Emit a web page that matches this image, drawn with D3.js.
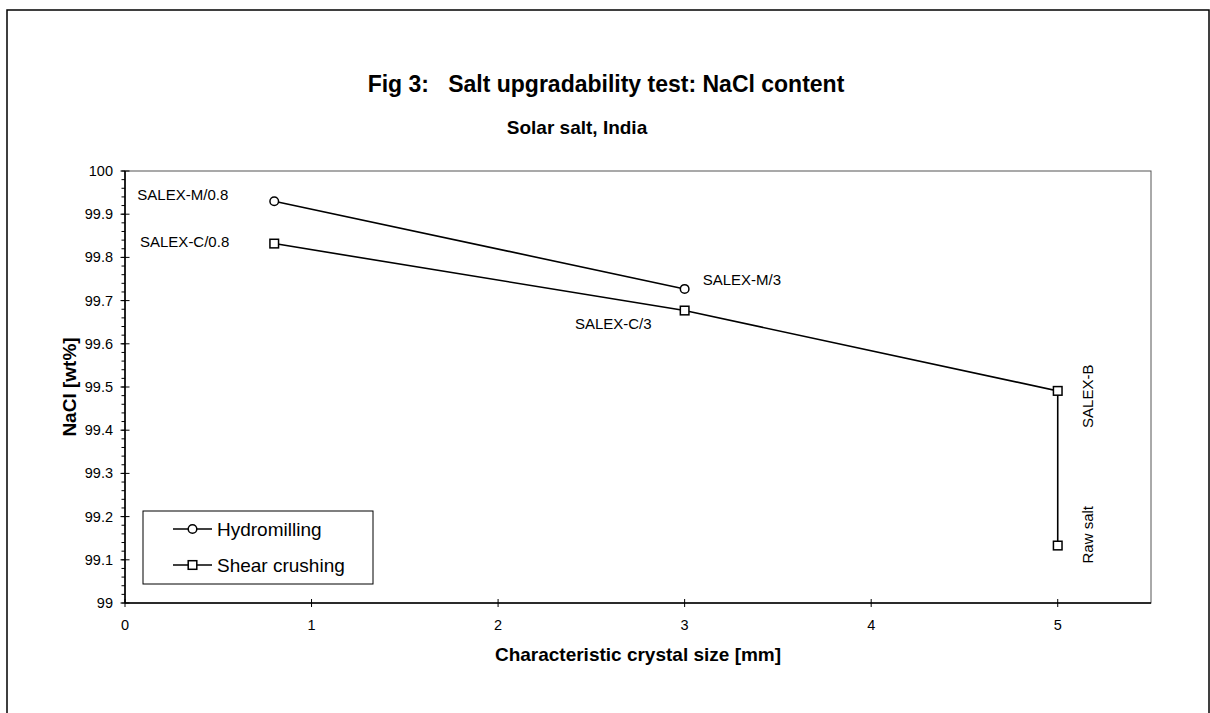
<!DOCTYPE html>
<html>
<head>
<meta charset="utf-8">
<script src="https://cdn.jsdelivr.net/npm/d3@7"></script>
<style>
  html, body { margin: 0; padding: 0; background: #fff; }
  svg { display: block; font-family: "Liberation Sans", Arial, Helvetica, sans-serif; }
</style>
</head>
<body>
<svg id="chart" width="1210" height="713"></svg>
<script>
// ---- data ----
const seriesNames = ["Hydromilling", "Shear crushing"];
const hydroX = [0.8, 3];
const hydroY = [99.93, 99.727];
const shearX = [0.8, 3, 5, 5];
const shearY = [99.832, 99.677, 99.491, 99.133];
const hydroLabels = ["SALEX-M/0.8", "SALEX-M/3"];
const shearLabels = ["SALEX-C/0.8", "SALEX-C/3", "SALEX-B", "Raw salt"];
const xTickValues = [0, 1, 2, 3, 4, 5];
const yTickValues = [99, 99.1, 99.2, 99.3, 99.4, 99.5, 99.6, 99.7, 99.8, 99.9, 100];
const yTickLabels = ["99", "99.1", "99.2", "99.3", "99.4", "99.5", "99.6", "99.7", "99.8", "99.9", "100"];
const titleText = "Fig 3:   Salt upgradability test: NaCl content";
const subtitleText = "Solar salt, India";
const xTitle = "Characteristic crystal size [mm]";
const yTitle = "NaCl [wt%]";

// ---- layout ----
const svg = d3.select("#chart");
const L = 125, R = 1151, T = 171, B = 603;
const x = d3.scaleLinear().domain([0, 5.5]).range([L, R]);
const y = d3.scaleLinear().domain([99, 100]).range([B, T]);

// outer frame
svg.append("rect").attr("x", 7).attr("y", 10).attr("width", 1202).attr("height", 720)
  .attr("fill", "none").attr("stroke", "#000").attr("stroke-width", 1.5);

// titles
svg.append("text").attr("x", 606).attr("y", 92).attr("text-anchor", "middle")
  .attr("font-size", 23).attr("font-weight", "bold").style("white-space", "pre").attr("xml:space", "preserve").text(titleText);
svg.append("text").attr("x", 577).attr("y", 134).attr("text-anchor", "middle")
  .attr("font-size", 19).attr("font-weight", "bold").text(subtitleText);

// plot area border (top/right)
svg.append("rect").attr("x", L).attr("y", T).attr("width", R - L).attr("height", B - T)
  .attr("fill", "none").attr("stroke", "#555").attr("stroke-width", 1);

// y minor ticks
const minor = d3.range(0, 51).map(i => 99 + i * 0.02);
svg.append("g").selectAll("line").data(minor).join("line")
  .attr("x1", L - 3.5).attr("x2", L).attr("y1", d => y(d)).attr("y2", d => y(d))
  .attr("stroke", "#000").attr("stroke-width", 1);
// y major ticks
svg.append("g").selectAll("line").data(yTickValues).join("line")
  .attr("x1", L - 4.5).attr("x2", L + 4.5).attr("y1", d => y(d)).attr("y2", d => y(d))
  .attr("stroke", "#000").attr("stroke-width", 1);
svg.append("g").selectAll("text").data(yTickValues).join("text")
  .attr("x", 113).attr("y", d => y(d) + 5).attr("text-anchor", "end")
  .attr("font-size", 14.5).text((d, i) => yTickLabels[i]);

// x ticks
svg.append("g").selectAll("line").data(xTickValues).join("line")
  .attr("x1", d => x(d)).attr("x2", d => x(d)).attr("y1", B - 4).attr("y2", B + 4)
  .attr("stroke", "#000").attr("stroke-width", 1);
svg.append("g").selectAll("text").data(xTickValues).join("text")
  .attr("x", d => x(d)).attr("y", 630).attr("text-anchor", "middle")
  .attr("font-size", 14.5).text(d => String(d));

// axes lines
svg.append("line").attr("x1", L).attr("x2", L).attr("y1", T).attr("y2", B)
  .attr("stroke", "#000").attr("stroke-width", 1.6);
svg.append("line").attr("x1", L).attr("x2", R).attr("y1", B).attr("y2", B)
  .attr("stroke", "#000").attr("stroke-width", 1.6);

// axis titles
svg.append("text").attr("x", (L + R) / 2).attr("y", 661).attr("text-anchor", "middle")
  .attr("font-size", 19).attr("font-weight", "bold").text(xTitle);
svg.append("text").attr("transform", `translate(76,${(T + B) / 2}) rotate(-90)`)
  .attr("text-anchor", "middle").attr("font-size", 19).attr("font-weight", "bold").text(yTitle);

// lines
const line = d3.line().x(d => x(d[0])).y(d => y(d[1]));
const hydro = hydroX.map((v, i) => [v, hydroY[i]]);
const shear = shearX.map((v, i) => [v, shearY[i]]);
svg.append("path").attr("d", line(hydro)).attr("fill", "none").attr("stroke", "#000").attr("stroke-width", 1.6);
svg.append("path").attr("d", line(shear)).attr("fill", "none").attr("stroke", "#000").attr("stroke-width", 1.6);

// markers
svg.append("g").selectAll("circle").data(hydro).join("circle")
  .attr("cx", d => x(d[0])).attr("cy", d => y(d[1])).attr("r", 4.3)
  .attr("fill", "#fff").attr("stroke", "#000").attr("stroke-width", 1.5);
svg.append("g").selectAll("rect").data(shear).join("rect")
  .attr("x", d => x(d[0]) - 4.3).attr("y", d => y(d[1]) - 4.3).attr("width", 8.6).attr("height", 8.6)
  .attr("fill", "#fff").attr("stroke", "#000").attr("stroke-width", 1.5);

// point labels (offsets are styling)
const hydroOff = [{dx: -46, dy: -1, anchor: "end", rot: false}, {dx: 18, dy: -4, anchor: "start", rot: false}];
const shearOff = [{dx: -45, dy: 3, anchor: "end", rot: false}, {dx: -33, dy: 18, anchor: "end", rot: false},
                  {dx: 35, dy: 37, anchor: "start", rot: true}, {dx: 35, dy: 18, anchor: "start", rot: true}];
function addLabels(pts, labels, offs) {
  pts.forEach((p, i) => {
    const o = offs[i];
    const px = x(p[0]) + o.dx, py = y(p[1]) + o.dy;
    const t = svg.append("text").attr("font-size", 15).attr("text-anchor", o.anchor).text(labels[i]);
    if (o.rot) t.attr("transform", `translate(${px},${py}) rotate(-90)`);
    else t.attr("x", px).attr("y", py);
  });
}
addLabels(hydro, hydroLabels, hydroOff);
addLabels(shear, shearLabels, shearOff);

// legend
const lg = svg.append("g");
lg.append("rect").attr("x", 143).attr("y", 511).attr("width", 230).attr("height", 73)
  .attr("fill", "#fff").attr("stroke", "#000").attr("stroke-width", 1);
const legY = [529, 565];
seriesNames.forEach((name, i) => {
  const yy = legY[i];
  lg.append("line").attr("x1", 173).attr("x2", 212).attr("y1", yy).attr("y2", yy)
    .attr("stroke", "#000").attr("stroke-width", 1.6);
  if (i === 0) {
    lg.append("circle").attr("cx", 192.5).attr("cy", yy).attr("r", 4.3)
      .attr("fill", "#fff").attr("stroke", "#000").attr("stroke-width", 1.5);
  } else {
    lg.append("rect").attr("x", 188.2).attr("y", yy - 4.3).attr("width", 8.6).attr("height", 8.6)
      .attr("fill", "#fff").attr("stroke", "#000").attr("stroke-width", 1.5);
  }
  lg.append("text").attr("x", 217).attr("y", yy + 7).attr("font-size", 19).text(name);
});
</script>
</body>
</html>
